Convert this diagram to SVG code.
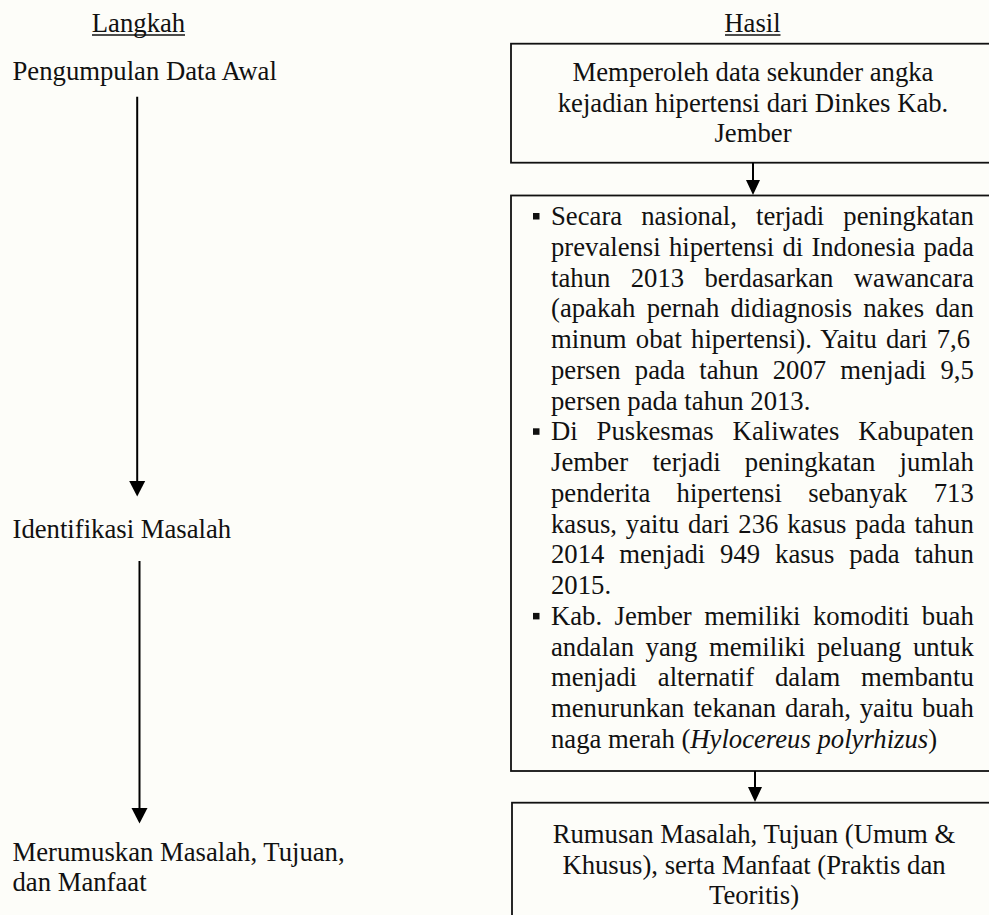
<svg xmlns="http://www.w3.org/2000/svg" width="989" height="915" viewBox="0 0 989 915">
  <style>
    text { font-family: "Liberation Serif", "Times New Roman", serif; font-size: 26.7px; fill: #111; }
    .mid { text-anchor: middle; }
    .box { fill: none; stroke: #111; stroke-width: 1.8; }
    .rule { stroke: #111; stroke-width: 1.6; }
    .wire { stroke: #000; stroke-width: 2; fill: none; }
    .head { fill: #000; }
    .dot { fill: #111; }
    .it { font-style: italic; }
  </style>
  <rect width="989" height="915" fill="#fdfdf9"/>

  <!-- column headings -->
  <g id="heading-langkah">
    <text x="138.5" y="32" class="mid">Langkah</text>
    <line class="rule" x1="92" y1="35" x2="185" y2="35"/>
  </g>
  <g id="heading-hasil">
    <text x="752.5" y="32" class="mid">Hasil</text>
    <line class="rule" x1="725" y1="35" x2="780.5" y2="35"/>
  </g>

  <!-- steps (left column) -->
  <g id="step-pengumpulan">
    <text x="12.5" y="80">Pengumpulan Data Awal</text>
  </g>
  <g id="step-identifikasi">
    <text x="12.5" y="538">Identifikasi Masalah</text>
  </g>
  <g id="step-merumuskan">
    <text x="12.5" y="861">Merumuskan Masalah, Tujuan,</text>
    <text x="12.5" y="891">dan Manfaat</text>
  </g>

  <!-- results (right column) -->
  <g id="result-data-sekunder">
    <rect class="box" x="511" y="43.7" width="490" height="119"/>
    <text x="753" y="81" class="mid">Memperoleh data sekunder angka</text>
    <text x="753" y="111.5" class="mid">kejadian hipertensi dari Dinkes Kab.</text>
    <text x="753" y="142" class="mid">Jember</text>
  </g>

  <g id="result-identifikasi">
    <rect class="box" x="511" y="195.5" width="490" height="575.5"/>
    <rect class="dot" x="533" y="213" width="6.5" height="6.5"/>
    <rect class="dot" x="533" y="428.3" width="6.5" height="6.5"/>
    <rect class="dot" x="533" y="612.9" width="6.5" height="6.5"/>
    <text x="551" y="225" style="word-spacing:12.47px">Secara nasional, terjadi peningkatan</text>
    <text x="551" y="255.8" style="word-spacing:1.57px">prevalensi hipertensi di Indonesia pada</text>
    <text x="551" y="286.5" style="word-spacing:13.73px">tahun 2013 berdasarkan wawancara</text>
    <text x="551" y="317.3" style="word-spacing:4.54px">(apakah pernah didiagnosis nakes dan</text>
    <text x="551" y="348" style="word-spacing:2.58px">minum obat hipertensi). Yaitu dari 7,6</text>
    <text x="551" y="378.8" style="word-spacing:7.48px">persen pada tahun 2007 menjadi 9,5</text>
    <text x="551" y="409.6">persen pada tahun 2013.</text>
    <text x="551" y="440.3" style="word-spacing:12.22px">Di Puskesmas Kaliwates Kabupaten</text>
    <text x="551" y="471.1" style="word-spacing:17.65px">Jember terjadi peningkatan jumlah</text>
    <text x="551" y="501.8" style="word-spacing:19.64px">penderita hipertensi sebanyak 713</text>
    <text x="551" y="532.6" style="word-spacing:2.15px">kasus, yaitu dari 236 kasus pada tahun</text>
    <text x="551" y="563.4" style="word-spacing:8.22px">2014 menjadi 949 kasus pada tahun</text>
    <text x="551" y="594.1">2015.</text>
    <text x="551" y="624.9" style="word-spacing:5.81px">Kab. Jember memiliki komoditi buah</text>
    <text x="551" y="655.6" style="word-spacing:4.89px">andalan yang memiliki peluang untuk</text>
    <text x="551" y="686.4" style="word-spacing:14.19px">menjadi alternatif dalam membantu</text>
    <text x="551" y="717.2" style="word-spacing:2.13px">menurunkan tekanan darah, yaitu buah</text>
    <text x="551" y="747.9">naga merah (<tspan class="it">Hylocereus polyrhizus</tspan>)</text>
  </g>

  <g id="result-rumusan">
    <rect class="box" x="512" y="802.7" width="490" height="140"/>
    <text x="754" y="843" class="mid">Rumusan Masalah, Tujuan (Umum &amp;</text>
    <text x="754" y="873.5" class="mid">Khusus), serta Manfaat (Praktis dan</text>
    <text x="754" y="904" class="mid">Teoritis)</text>
  </g>

  <!-- connectors -->
  <g id="connectors">
    <line class="wire" x1="137.2" y1="96.7" x2="137.2" y2="482"/>
    <polygon class="head" points="129.2,481 145.2,481 137.2,496.5"/>
    <line class="wire" x1="139.5" y1="561" x2="139.5" y2="809"/>
    <polygon class="head" points="131.5,808 147.5,808 139.5,823.5"/>
    <line class="wire" x1="753" y1="162.7" x2="753" y2="181"/>
    <polygon class="head" points="746,180 760,180 753,195"/>
    <line class="wire" x1="755" y1="771" x2="755" y2="788"/>
    <polygon class="head" points="748,787 762,787 755,802"/>
  </g>
</svg>
